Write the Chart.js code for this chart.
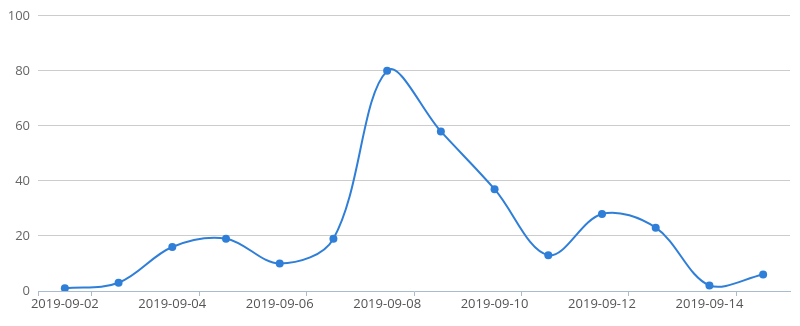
<!DOCTYPE html>
<html>
<head>
<meta charset="utf-8">
<script src="https://cdn.jsdelivr.net/npm/chart.js@4"></script>
<style>
  html, body { margin: 0; padding: 0; background: #fff; }
  #wrap { width: 800px; height: 326px; }
</style>
</head>
<body>
<div id="wrap"><canvas id="chart"></canvas></div>
<script>
const dates = ['2019-09-02','2019-09-03','2019-09-04','2019-09-05','2019-09-06','2019-09-07','2019-09-08',
               '2019-09-09','2019-09-10','2019-09-11','2019-09-12','2019-09-13','2019-09-14','2019-09-15'];
const values = [1, 3, 16, 19, 10, 19, 80, 58, 37, 13, 28, 23, 2, 6];

const lineColor = '#2f7ed8';
const textColor = '#666';

Chart.defaults.font.family = '"Open Sans", "Noto Sans", sans-serif';
Chart.defaults.font.size = 13;
Chart.defaults.color = textColor;

new Chart(document.getElementById('chart').getContext('2d'), {
    type: 'line',
    data: {
        labels: dates,
        datasets: [{
            data: values,
            borderColor: lineColor,
            backgroundColor: lineColor,
            borderWidth: 2,
            pointRadius: 4,
            pointBorderWidth: 0,
            pointBackgroundColor: lineColor,
            fill: false,
            tension: 0.35
        }]
    },
    options: {
        responsive: true,
        maintainAspectRatio: false,
        animation: false,
        layout: { padding: { top: 8, right: 10, bottom: 0, left: 0 } },
        plugins: {
            legend: { display: false },
            tooltip: { enabled: false }
        },
        scales: {
            x: {
                offset: true,
                grid: {
                    offset: true,
                    drawOnChartArea: false,
                    tickLength: 5,
                    color: ctx => (ctx.index === 0 || ctx.index % 2 === 1) ? '#a9bccf' : 'transparent'
                },
                border: { color: '#a9bccf', width: 1 },
                ticks: {
                    autoSkip: false,
                    maxRotation: 0,
                    padding: 0,
                    color: '#555',
                    callback: (v, i) => i % 2 === 0 ? dates[i] : ''
                },
                afterFit: s => { s.height = 35; }
            },
            y: {
                min: 0,
                max: 100,
                ticks: { stepSize: 20, padding: 8, color: textColor },
                grid: {
                    drawTicks: false,
                    color: ctx => ctx.index === 0 ? 'transparent' : '#cccccc'
                },
                border: { display: false },
                afterFit: s => { s.width = 38; }
            }
        }
    }
});
</script>
</body>
</html>
